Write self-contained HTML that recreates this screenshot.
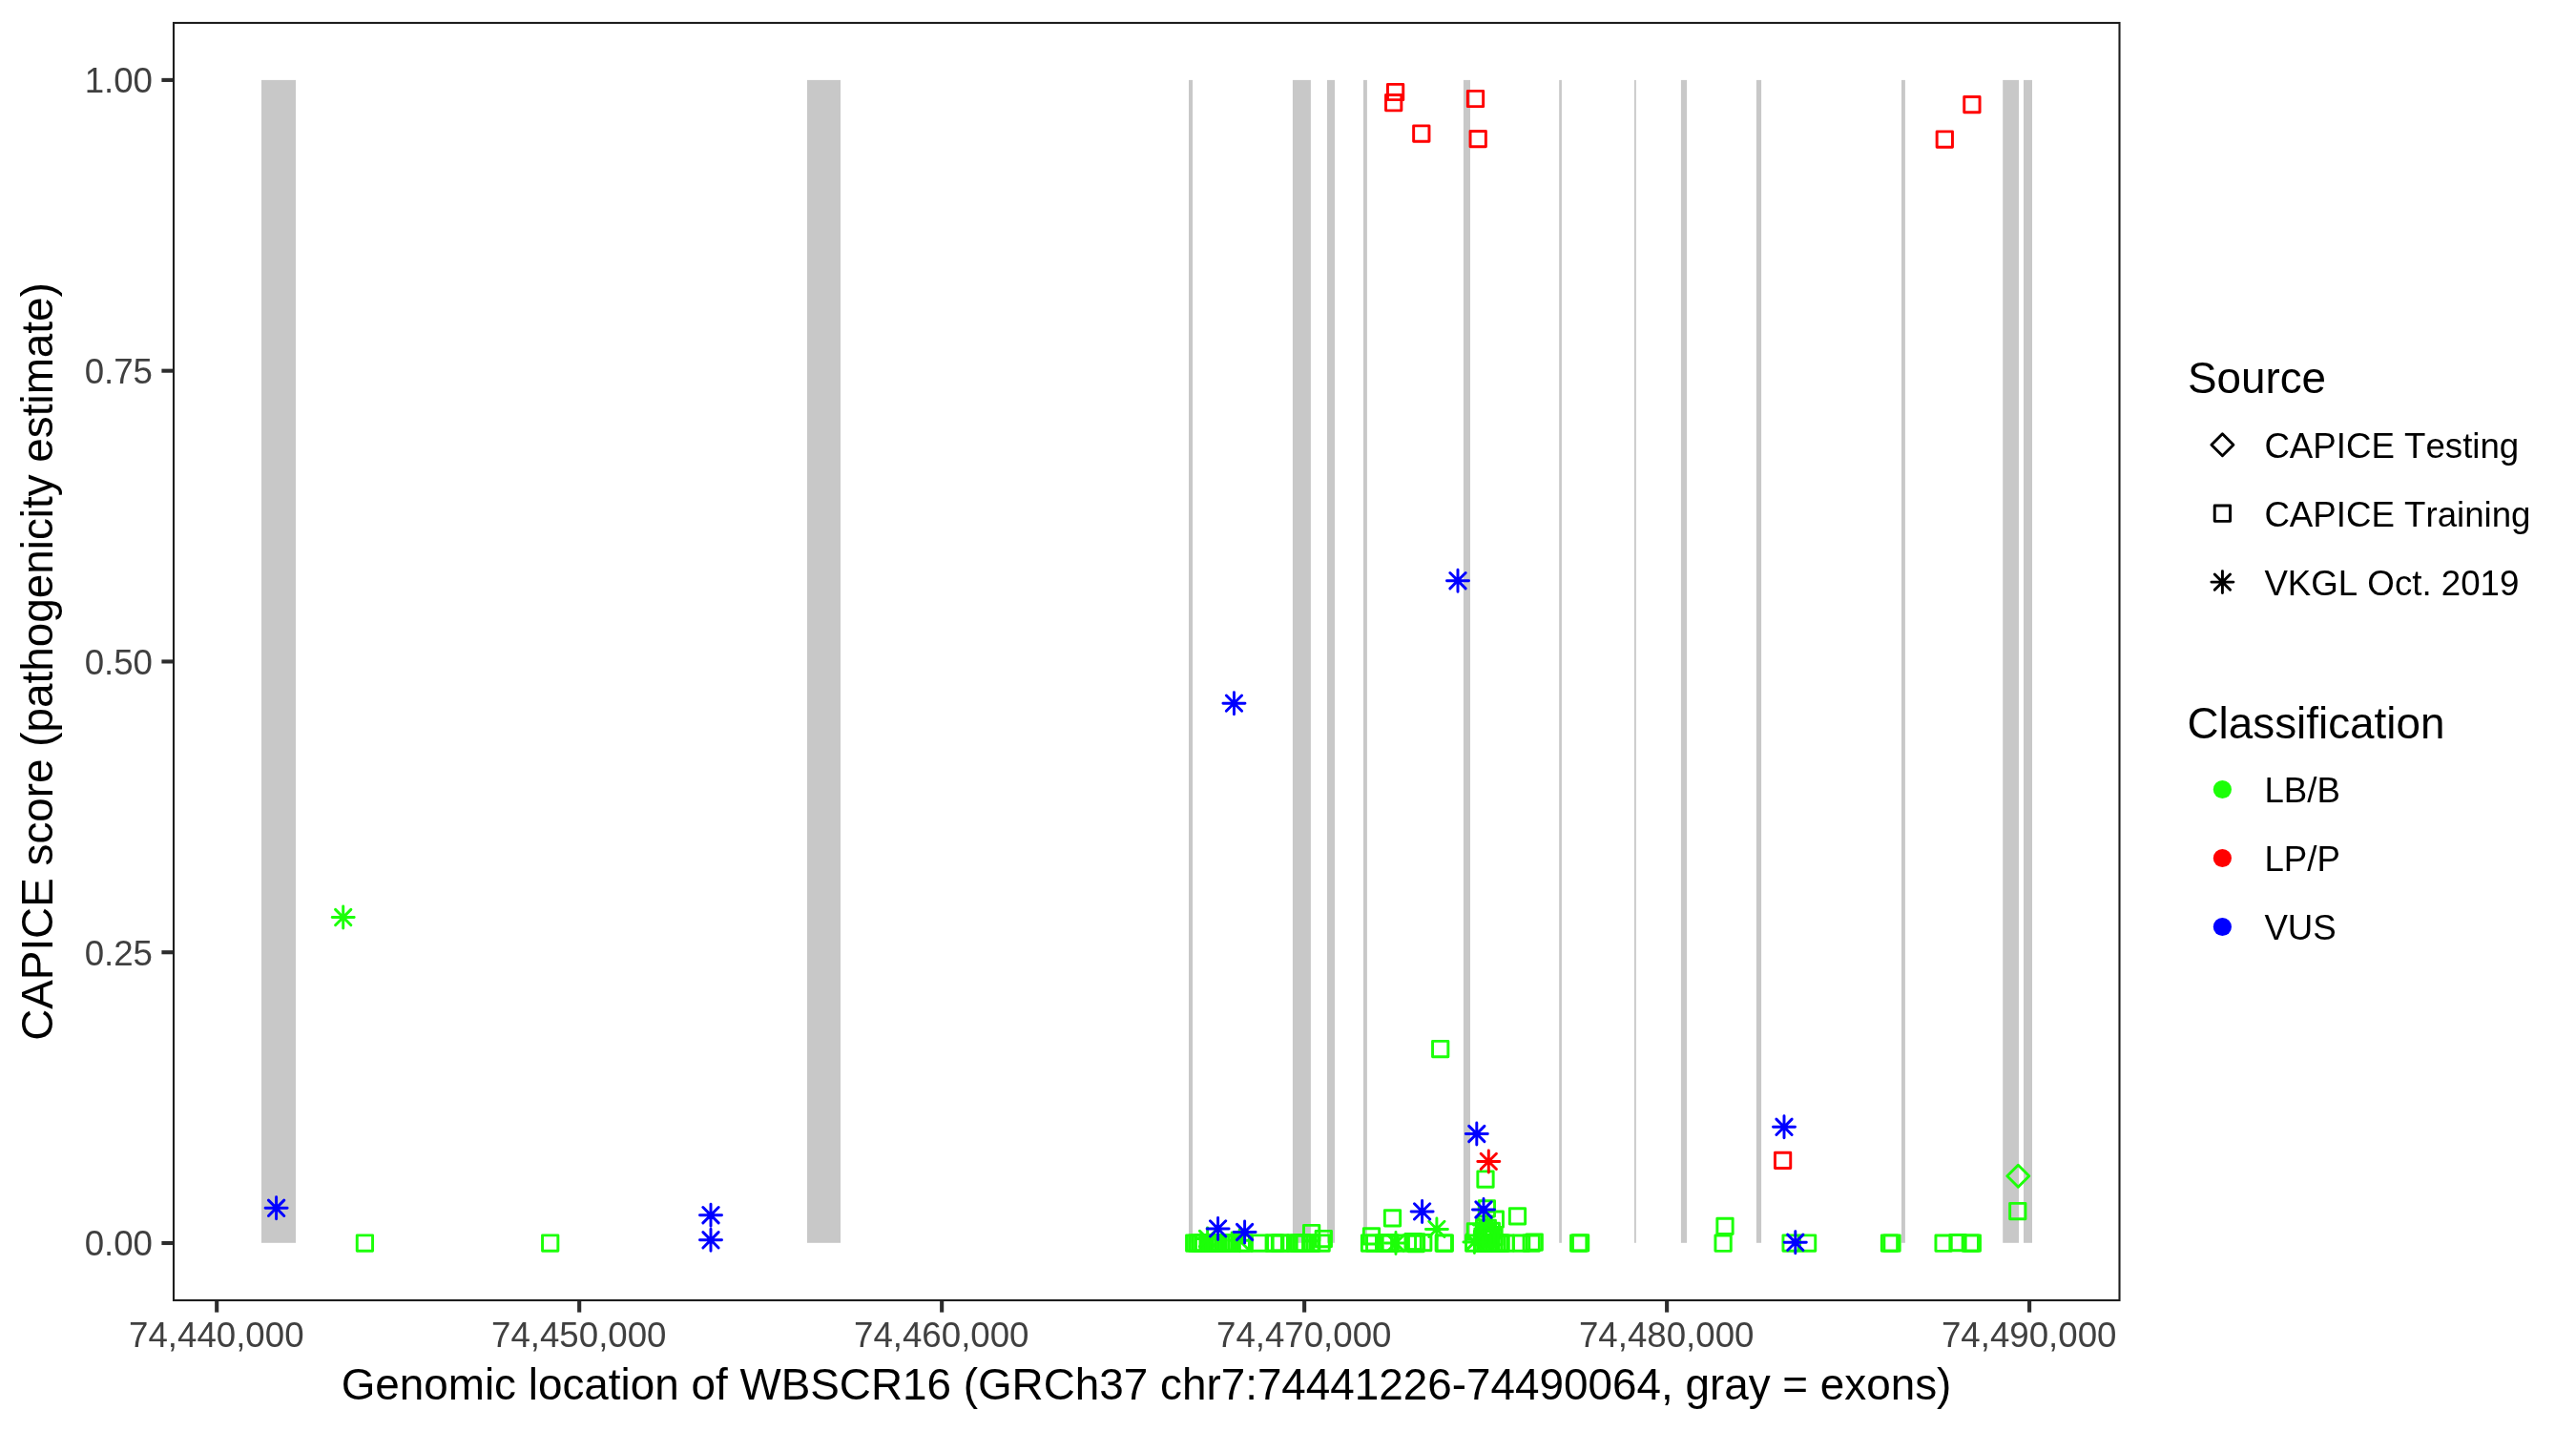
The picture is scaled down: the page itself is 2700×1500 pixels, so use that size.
<!DOCTYPE html>
<html><head><meta charset="utf-8"><title>CAPICE WBSCR16</title>
<style>
html,body{margin:0;padding:0;background:#fff;}
body{width:2700px;height:1500px;overflow:hidden;}
svg{display:block;will-change:transform;font-family:"Liberation Sans",sans-serif;font-kerning:none;}
.tk{font-size:36.67px;fill:#404040;}
.ti{font-size:45.83px;fill:#000;}
.lg{font-size:36.67px;fill:#000;}
.pt *{fill:none;stroke-width:2.95;stroke-linejoin:round;stroke-linecap:round;}
</style></head><body>
<svg width="2700" height="1500" viewBox="0 0 2700 1500">
<rect x="0" y="0" width="2700" height="1500" fill="#ffffff"/>
<g fill="#c8c8c8">
<rect x="274.0" y="83.9" width="36.00" height="1218.90"/>
<rect x="846.0" y="83.9" width="35.00" height="1218.90"/>
<rect x="1246.0" y="83.9" width="4.10" height="1218.90"/>
<rect x="1354.9" y="83.9" width="19.00" height="1218.90"/>
<rect x="1391.0" y="83.9" width="8.00" height="1218.90"/>
<rect x="1429.0" y="83.9" width="3.90" height="1218.90"/>
<rect x="1533.9" y="83.9" width="7.10" height="1218.90"/>
<rect x="1634.2" y="83.9" width="2.70" height="1218.90"/>
<rect x="1713.0" y="83.9" width="1.80" height="1218.90"/>
<rect x="1761.9" y="83.9" width="6.20" height="1218.90"/>
<rect x="1840.9" y="83.9" width="5.20" height="1218.90"/>
<rect x="1993.0" y="83.9" width="3.90" height="1218.90"/>
<rect x="2099.2" y="83.9" width="16.80" height="1218.90"/>
<rect x="2121.0" y="83.9" width="9.00" height="1218.90"/>
</g>
<g class="pt">
<rect x="1454.45" y="88.35" width="16.30" height="16.30" stroke="#ff0000"/>
<rect x="1452.55" y="99.55" width="16.30" height="16.30" stroke="#ff0000"/>
<rect x="1481.65" y="131.85" width="16.30" height="16.30" stroke="#ff0000"/>
<rect x="1538.35" y="95.35" width="16.30" height="16.30" stroke="#ff0000"/>
<rect x="1541.05" y="137.45" width="16.30" height="16.30" stroke="#ff0000"/>
<rect x="2058.75" y="101.45" width="16.30" height="16.30" stroke="#ff0000"/>
<rect x="2030.15" y="137.85" width="16.30" height="16.30" stroke="#ff0000"/>
<rect x="1860.45" y="1208.15" width="16.30" height="16.30" stroke="#ff0000"/>
<rect x="374.25" y="1294.85" width="16.30" height="16.30" stroke="#1cff08"/>
<rect x="568.55" y="1294.85" width="16.30" height="16.30" stroke="#1cff08"/>
<rect x="1501.55" y="1091.35" width="16.30" height="16.30" stroke="#1cff08"/>
<rect x="1548.85" y="1227.85" width="16.30" height="16.30" stroke="#1cff08"/>
<rect x="1451.35" y="1268.70" width="16.30" height="16.30" stroke="#1cff08"/>
<rect x="1582.35" y="1266.65" width="16.30" height="16.30" stroke="#1cff08"/>
<rect x="1559.15" y="1270.05" width="16.30" height="16.30" stroke="#1cff08"/>
<rect x="1550.25" y="1258.75" width="16.30" height="16.30" stroke="#1cff08"/>
<rect x="1366.50" y="1284.35" width="16.30" height="16.30" stroke="#1cff08"/>
<rect x="1379.15" y="1290.35" width="16.30" height="16.30" stroke="#1cff08"/>
<rect x="1429.35" y="1287.75" width="16.30" height="16.30" stroke="#1cff08"/>
<rect x="1646.55" y="1294.85" width="16.30" height="16.30" stroke="#1cff08"/>
<rect x="1648.45" y="1294.65" width="16.30" height="16.30" stroke="#1cff08"/>
<rect x="1799.85" y="1277.25" width="16.30" height="16.30" stroke="#1cff08"/>
<rect x="1797.95" y="1295.05" width="16.30" height="16.30" stroke="#1cff08"/>
<rect x="1868.95" y="1294.85" width="16.30" height="16.30" stroke="#1cff08"/>
<rect x="1886.45" y="1294.85" width="16.30" height="16.30" stroke="#1cff08"/>
<rect x="1972.35" y="1294.85" width="16.30" height="16.30" stroke="#1cff08"/>
<rect x="1974.85" y="1294.85" width="16.30" height="16.30" stroke="#1cff08"/>
<rect x="2028.95" y="1295.05" width="16.30" height="16.30" stroke="#1cff08"/>
<rect x="2043.85" y="1294.45" width="16.30" height="16.30" stroke="#1cff08"/>
<rect x="2057.15" y="1294.85" width="16.30" height="16.30" stroke="#1cff08"/>
<rect x="2059.15" y="1294.85" width="16.30" height="16.30" stroke="#1cff08"/>
<rect x="2106.65" y="1261.35" width="16.30" height="16.30" stroke="#1cff08"/>
<rect x="1243.57" y="1294.85" width="16.30" height="16.30" stroke="#1cff08"/>
<rect x="1246.57" y="1294.85" width="16.30" height="16.30" stroke="#1cff08"/>
<rect x="1249.57" y="1294.85" width="16.30" height="16.30" stroke="#1cff08"/>
<rect x="1252.57" y="1294.85" width="16.30" height="16.30" stroke="#1cff08"/>
<rect x="1253.47" y="1294.85" width="16.30" height="16.30" stroke="#1cff08"/>
<rect x="1257.97" y="1294.85" width="16.30" height="16.30" stroke="#1cff08"/>
<rect x="1260.97" y="1294.85" width="16.30" height="16.30" stroke="#1cff08"/>
<rect x="1263.97" y="1294.85" width="16.30" height="16.30" stroke="#1cff08"/>
<rect x="1266.97" y="1294.85" width="16.30" height="16.30" stroke="#1cff08"/>
<rect x="1268.47" y="1294.85" width="16.30" height="16.30" stroke="#1cff08"/>
<rect x="1271.37" y="1294.85" width="16.30" height="16.30" stroke="#1cff08"/>
<rect x="1274.37" y="1294.85" width="16.30" height="16.30" stroke="#1cff08"/>
<rect x="1277.37" y="1294.85" width="16.30" height="16.30" stroke="#1cff08"/>
<rect x="1280.37" y="1294.85" width="16.30" height="16.30" stroke="#1cff08"/>
<rect x="1282.67" y="1294.85" width="16.30" height="16.30" stroke="#1cff08"/>
<rect x="1293.17" y="1294.85" width="16.30" height="16.30" stroke="#1cff08"/>
<rect x="1296.07" y="1294.85" width="16.30" height="16.30" stroke="#1cff08"/>
<rect x="1311.55" y="1294.85" width="16.30" height="16.30" stroke="#1cff08"/>
<rect x="1327.07" y="1294.85" width="16.30" height="16.30" stroke="#1cff08"/>
<rect x="1328.57" y="1294.85" width="16.30" height="16.30" stroke="#1cff08"/>
<rect x="1333.37" y="1294.85" width="16.30" height="16.30" stroke="#1cff08"/>
<rect x="1334.17" y="1294.85" width="16.30" height="16.30" stroke="#1cff08"/>
<rect x="1349.47" y="1294.85" width="16.30" height="16.30" stroke="#1cff08"/>
<rect x="1350.57" y="1294.85" width="16.30" height="16.30" stroke="#1cff08"/>
<rect x="1353.47" y="1294.85" width="16.30" height="16.30" stroke="#1cff08"/>
<rect x="1356.47" y="1294.85" width="16.30" height="16.30" stroke="#1cff08"/>
<rect x="1359.17" y="1294.85" width="16.30" height="16.30" stroke="#1cff08"/>
<rect x="1365.77" y="1294.85" width="16.30" height="16.30" stroke="#1cff08"/>
<rect x="1366.57" y="1294.85" width="16.30" height="16.30" stroke="#1cff08"/>
<rect x="1376.97" y="1294.85" width="16.30" height="16.30" stroke="#1cff08"/>
<rect x="1427.37" y="1294.85" width="16.30" height="16.30" stroke="#1cff08"/>
<rect x="1432.57" y="1294.85" width="16.30" height="16.30" stroke="#1cff08"/>
<rect x="1442.47" y="1294.85" width="16.30" height="16.30" stroke="#1cff08"/>
<rect x="1445.47" y="1294.85" width="16.30" height="16.30" stroke="#1cff08"/>
<rect x="1448.37" y="1294.85" width="16.30" height="16.30" stroke="#1cff08"/>
<rect x="1449.07" y="1294.85" width="16.30" height="16.30" stroke="#1cff08"/>
<rect x="1458.87" y="1294.85" width="16.30" height="16.30" stroke="#1cff08"/>
<rect x="1505.15" y="1294.85" width="16.30" height="16.30" stroke="#1cff08"/>
<rect x="1506.15" y="1294.85" width="16.30" height="16.30" stroke="#1cff08"/>
<rect x="1472.97" y="1293.35" width="16.30" height="16.30" stroke="#1cff08"/>
<rect x="1475.97" y="1295.35" width="16.30" height="16.30" stroke="#1cff08"/>
<rect x="1476.37" y="1293.65" width="16.30" height="16.30" stroke="#1cff08"/>
<rect x="1483.57" y="1294.35" width="16.30" height="16.30" stroke="#1cff08"/>
<rect x="1536.57" y="1294.95" width="16.30" height="16.30" stroke="#1cff08"/>
<rect x="1545.57" y="1294.95" width="16.30" height="16.30" stroke="#1cff08"/>
<rect x="1548.57" y="1294.95" width="16.30" height="16.30" stroke="#1cff08"/>
<rect x="1551.57" y="1294.95" width="16.30" height="16.30" stroke="#1cff08"/>
<rect x="1554.57" y="1294.95" width="16.30" height="16.30" stroke="#1cff08"/>
<rect x="1557.57" y="1294.95" width="16.30" height="16.30" stroke="#1cff08"/>
<rect x="1560.57" y="1294.95" width="16.30" height="16.30" stroke="#1cff08"/>
<rect x="1563.57" y="1294.95" width="16.30" height="16.30" stroke="#1cff08"/>
<rect x="1564.97" y="1294.95" width="16.30" height="16.30" stroke="#1cff08"/>
<rect x="1569.87" y="1294.95" width="16.30" height="16.30" stroke="#1cff08"/>
<rect x="1586.47" y="1294.95" width="16.30" height="16.30" stroke="#1cff08"/>
<rect x="1597.07" y="1294.95" width="16.30" height="16.30" stroke="#1cff08"/>
<rect x="1600.05" y="1293.85" width="16.30" height="16.30" stroke="#1cff08"/>
<rect x="1538.25" y="1282.65" width="16.30" height="16.30" stroke="#1cff08"/>
<rect x="1555.15" y="1282.25" width="16.30" height="16.30" stroke="#1cff08"/>
<rect x="1547.45" y="1278.95" width="16.30" height="16.30" stroke="#1cff08"/>
<rect x="1551.15" y="1279.15" width="16.30" height="16.30" stroke="#1cff08"/>
<rect x="1549.35" y="1281.85" width="16.30" height="16.30" stroke="#1cff08"/>
<rect x="1551.85" y="1285.35" width="16.30" height="16.30" stroke="#1cff08"/>
<rect x="1548.35" y="1284.85" width="16.30" height="16.30" stroke="#1cff08"/>
<rect x="1545.85" y="1287.85" width="16.30" height="16.30" stroke="#1cff08"/>
<rect x="1549.85" y="1290.85" width="16.30" height="16.30" stroke="#1cff08"/>
<rect x="1557.85" y="1288.35" width="16.30" height="16.30" stroke="#1cff08"/>
<rect x="1553.65" y="1289.85" width="16.30" height="16.30" stroke="#1cff08"/>
<path d="M2103.80,1232.70L2115.30,1221.20L2126.80,1232.70L2115.30,1244.20Z" stroke="#1cff08"/>
<path d="M348.20,961.55h23.00M359.70,950.05v23.00M351.56,953.41l16.28,16.28M351.56,969.69l16.28,-16.28" stroke="#1cff08"/>
<path d="M1254.10,1298.50h23.00M1265.60,1287.00v23.00M1257.46,1290.36l16.28,16.28M1257.46,1306.64l16.28,-16.28" stroke="#1cff08"/>
<path d="M1287.70,1300.30h23.00M1299.20,1288.80v23.00M1291.06,1292.16l16.28,16.28M1291.06,1308.44l16.28,-16.28" stroke="#1cff08"/>
<path d="M1451.50,1303.00h23.00M1463.00,1291.50v23.00M1454.86,1294.86l16.28,16.28M1454.86,1311.14l16.28,-16.28" stroke="#1cff08"/>
<path d="M1494.40,1288.40h23.00M1505.90,1276.90v23.00M1497.76,1280.26l16.28,16.28M1497.76,1296.54l16.28,-16.28" stroke="#1cff08"/>
<path d="M1533.90,1302.00h23.00M1545.40,1290.50v23.00M1537.26,1293.86l16.28,16.28M1537.26,1310.14l16.28,-16.28" stroke="#1cff08"/>
<path d="M1544.50,1284.00h23.00M1556.00,1272.50v23.00M1547.86,1275.86l16.28,16.28M1547.86,1292.14l16.28,-16.28" stroke="#1cff08"/>
<path d="M1548.80,1217.40h23.00M1560.30,1205.90v23.00M1552.16,1209.26l16.28,16.28M1552.16,1225.54l16.28,-16.28" stroke="#ff0000"/>
<path d="M278.10,1266.30h23.00M289.60,1254.80v23.00M281.46,1258.16l16.28,16.28M281.46,1274.44l16.28,-16.28" stroke="#0000ff"/>
<path d="M733.50,1273.70h23.00M745.00,1262.20v23.00M736.86,1265.56l16.28,16.28M736.86,1281.84l16.28,-16.28" stroke="#0000ff"/>
<path d="M733.50,1299.80h23.00M745.00,1288.30v23.00M736.86,1291.66l16.28,16.28M736.86,1307.94l16.28,-16.28" stroke="#0000ff"/>
<path d="M1281.95,737.15h23.00M1293.45,725.65v23.00M1285.31,729.01l16.28,16.28M1285.31,745.29l16.28,-16.28" stroke="#0000ff"/>
<path d="M1516.50,608.70h23.00M1528.00,597.20v23.00M1519.86,600.56l16.28,16.28M1519.86,616.84l16.28,-16.28" stroke="#0000ff"/>
<path d="M1265.10,1287.90h23.00M1276.60,1276.40v23.00M1268.46,1279.76l16.28,16.28M1268.46,1296.04l16.28,-16.28" stroke="#0000ff"/>
<path d="M1293.10,1291.50h23.00M1304.60,1280.00v23.00M1296.46,1283.36l16.28,16.28M1296.46,1299.64l16.28,-16.28" stroke="#0000ff"/>
<path d="M1479.10,1269.90h23.00M1490.60,1258.40v23.00M1482.46,1261.76l16.28,16.28M1482.46,1278.04l16.28,-16.28" stroke="#0000ff"/>
<path d="M1536.30,1188.50h23.00M1547.80,1177.00v23.00M1539.66,1180.36l16.28,16.28M1539.66,1196.64l16.28,-16.28" stroke="#0000ff"/>
<path d="M1543.50,1268.00h23.00M1555.00,1256.50v23.00M1546.86,1259.86l16.28,16.28M1546.86,1276.14l16.28,-16.28" stroke="#0000ff"/>
<path d="M1858.50,1181.30h23.00M1870.00,1169.80v23.00M1861.86,1173.16l16.28,16.28M1861.86,1189.44l16.28,-16.28" stroke="#0000ff"/>
<path d="M1870.30,1302.30h23.00M1881.80,1290.80v23.00M1873.66,1294.16l16.28,16.28M1873.66,1310.44l16.28,-16.28" stroke="#0000ff"/>
</g>
<g>
<rect x="182" y="24" width="2039.5" height="1339" fill="none" stroke="#1e1e1e" stroke-width="2.1" stroke-linejoin="miter"/>
<rect x="169.4" y="1300.95" width="11.6" height="4.1" fill="#2d2d2d"/>
<text x="160.0" y="1316.40" text-anchor="end" class="tk">0.00</text>
<rect x="169.4" y="996.18" width="11.6" height="4.1" fill="#2d2d2d"/>
<text x="160.0" y="1011.62" text-anchor="end" class="tk">0.25</text>
<rect x="169.4" y="691.40" width="11.6" height="4.1" fill="#2d2d2d"/>
<text x="160.0" y="706.85" text-anchor="end" class="tk">0.50</text>
<rect x="169.4" y="386.63" width="11.6" height="4.1" fill="#2d2d2d"/>
<text x="160.0" y="402.08" text-anchor="end" class="tk">0.75</text>
<rect x="169.4" y="81.85" width="11.6" height="4.1" fill="#2d2d2d"/>
<text x="160.0" y="97.30" text-anchor="end" class="tk">1.00</text>
<rect x="225.15" y="1364" width="4.1" height="11.6" fill="#2d2d2d"/>
<text x="226.80" y="1411.9" text-anchor="middle" class="tk">74,440,000</text>
<rect x="605.13" y="1364" width="4.1" height="11.6" fill="#2d2d2d"/>
<text x="606.78" y="1411.9" text-anchor="middle" class="tk">74,450,000</text>
<rect x="985.11" y="1364" width="4.1" height="11.6" fill="#2d2d2d"/>
<text x="986.76" y="1411.9" text-anchor="middle" class="tk">74,460,000</text>
<rect x="1365.09" y="1364" width="4.1" height="11.6" fill="#2d2d2d"/>
<text x="1366.74" y="1411.9" text-anchor="middle" class="tk">74,470,000</text>
<rect x="1745.07" y="1364" width="4.1" height="11.6" fill="#2d2d2d"/>
<text x="1746.72" y="1411.9" text-anchor="middle" class="tk">74,480,000</text>
<rect x="2125.05" y="1364" width="4.1" height="11.6" fill="#2d2d2d"/>
<text x="2126.70" y="1411.9" text-anchor="middle" class="tk">74,490,000</text>
<text x="1201.5" y="1466.9" text-anchor="middle" class="ti">Genomic location of WBSCR16 (GRCh37 chr7:74441226-74490064, gray = exons)</text>
<text transform="translate(55.0,693.5) rotate(-90)" text-anchor="middle" class="ti">CAPICE score (pathogenicity estimate)</text>
<text x="2292.9" y="412.4" class="ti">Source</text>
<text x="2292.5" y="773.8" class="ti">Classification</text>
<text x="2373.4" y="479.90" class="lg">CAPICE Testing</text>
<text x="2373.4" y="551.90" class="lg">CAPICE Training</text>
<text x="2373.4" y="623.90" class="lg">VKGL Oct. 2019</text>
<text x="2373.4" y="841.00" class="lg">LB/B</text>
<text x="2373.4" y="913.00" class="lg">LP/P</text>
<text x="2373.4" y="985.00" class="lg">VUS</text>
</g>
<g class="pt">
<path d="M2317.90,466.30L2329.40,454.80L2340.90,466.30L2329.40,477.80Z" stroke="#000000"/>
<rect x="2321.25" y="530.05" width="16.30" height="16.30" stroke="#000000"/>
<path d="M2317.90,610.10h23.00M2329.40,598.60v23.00M2321.26,601.96l16.28,16.28M2321.26,618.24l16.28,-16.28" stroke="#000000"/>
</g>
<g>
<circle cx="2329.4" cy="827.5" r="9.6" fill="#1cff08"/>
<circle cx="2329.4" cy="899.5" r="9.6" fill="#ff0000"/>
<circle cx="2329.4" cy="971.5" r="9.6" fill="#0000ff"/>
</g>
</svg>
</body></html>
